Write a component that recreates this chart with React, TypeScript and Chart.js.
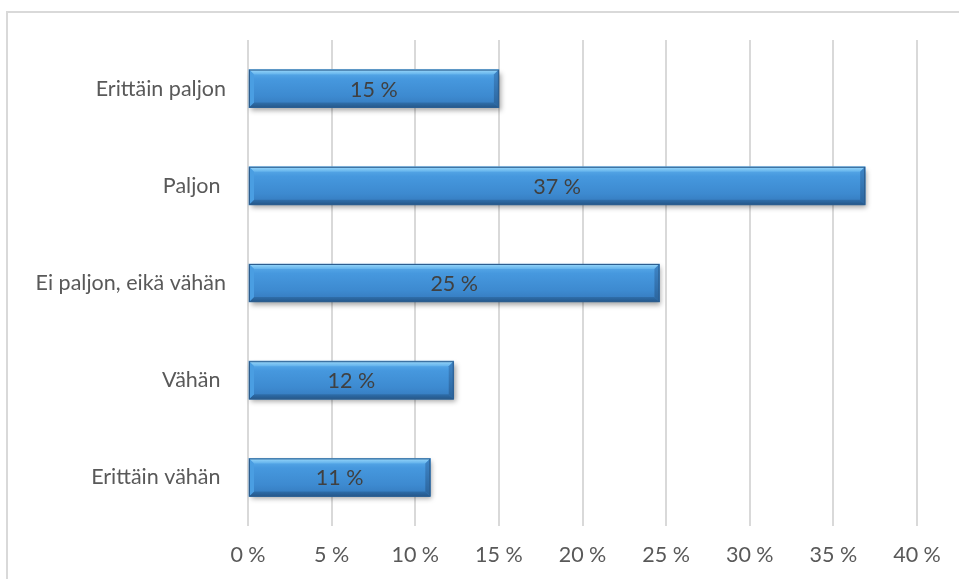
import React, { useEffect, useRef } from "react";
import { Chart, registerables } from "chart.js";

Chart.register(...registerables);

const categories = ["Erittäin paljon", "Paljon ", "Ei paljon, eikä vähän", "Vähän ", "Erittäin vähän "];
const values = [15.0, 36.9, 24.6, 12.3, 10.9];
const valueLabels = ["15 %", "37 %", "25 %", "12 %", "11 %"];
const axisMin = 0;
const axisMax = 40;
const axisStep = 5;

const FONT = "Lato, 'Open Sans', sans-serif";
const TEXT = "#595959";
const FONT_SIZE = 21.5;

const framePlugin = {
  id: "frame",
  beforeDraw(chart: any) {
    const ctx = chart.ctx;
    ctx.save();
    ctx.fillStyle = "#ffffff";
    ctx.fillRect(0, 0, chart.width, chart.height);
    ctx.strokeStyle = "#d9d9d9";
    ctx.lineWidth = 2;
    ctx.strokeRect(7, 12, chart.width + 20, chart.height + 20);
    ctx.restore();
  },
};

const bevelPlugin = {
  id: "bevel",
  afterDatasetsDraw(chart: any) {
    const ctx = chart.ctx;
    const meta = chart.getDatasetMeta(0);
    meta.data.forEach((bar: any, i: number) => {
      const x0 = Math.min(bar.base, bar.x);
      const x1 = Math.max(bar.base, bar.x);
      const h = bar.height;
      const y0 = bar.y - h / 2;
      const y1 = bar.y + h / 2;
      const b = 5;
      ctx.save();
      ctx.shadowColor = "rgba(0,0,0,0.35)";
      ctx.shadowBlur = 5;
      ctx.shadowOffsetX = 2;
      ctx.shadowOffsetY = 3;
      const g = ctx.createLinearGradient(0, y0, 0, y1);
      g.addColorStop(0, "#5fb0ec");
      g.addColorStop(0.25, "#4698de");
      g.addColorStop(0.7, "#3d8ad0");
      g.addColorStop(1, "#3478bb");
      ctx.fillStyle = g;
      ctx.fillRect(x0, y0, x1 - x0, h);
      ctx.shadowColor = "transparent";
      const gt = ctx.createLinearGradient(0, y0, 0, y0 + b);
      gt.addColorStop(0, "#9ad8fa");
      gt.addColorStop(1, "#62b2ec");
      ctx.fillStyle = gt;
      ctx.beginPath();
      ctx.moveTo(x0, y0);
      ctx.lineTo(x1, y0);
      ctx.lineTo(x1 - b, y0 + b);
      ctx.lineTo(x0 + b, y0 + b);
      ctx.closePath();
      ctx.fill();
      const gb = ctx.createLinearGradient(0, y1 - b, 0, y1);
      gb.addColorStop(0, "#2f6eaa");
      gb.addColorStop(1, "#24578a");
      ctx.fillStyle = gb;
      ctx.beginPath();
      ctx.moveTo(x0, y1);
      ctx.lineTo(x1, y1);
      ctx.lineTo(x1 - b, y1 - b);
      ctx.lineTo(x0 + b, y1 - b);
      ctx.closePath();
      ctx.fill();
      ctx.fillStyle = "#4a9ee2";
      ctx.beginPath();
      ctx.moveTo(x0, y0);
      ctx.lineTo(x0 + b, y0 + b);
      ctx.lineTo(x0 + b, y1 - b);
      ctx.lineTo(x0, y1);
      ctx.closePath();
      ctx.fill();
      const gr = ctx.createLinearGradient(0, y0, 0, y1);
      gr.addColorStop(0, "#3f86c8");
      gr.addColorStop(1, "#2b649c");
      ctx.fillStyle = gr;
      ctx.beginPath();
      ctx.moveTo(x1, y0);
      ctx.lineTo(x1 - b, y0 + b);
      ctx.lineTo(x1 - b, y1 - b);
      ctx.lineTo(x1, y1);
      ctx.closePath();
      ctx.fill();
      ctx.strokeStyle = "#2c5d8e";
      ctx.lineWidth = 1;
      ctx.strokeRect(x0 + 0.5, y0 + 0.5, x1 - x0 - 1, h - 1);
      ctx.fillStyle = "#404040";
      ctx.font = `${FONT_SIZE}px ${FONT}`;
      ctx.textAlign = "center";
      ctx.textBaseline = "middle";
      ctx.fillText(valueLabels[i], (x0 + x1) / 2, bar.y + 1);
      ctx.restore();
    });
  },
};

export default function App() {
  const ref = useRef<HTMLCanvasElement | null>(null);
  useEffect(() => {
    document.body.style.margin = "0";
    const canvas = ref.current!;
    const chart = new Chart(canvas, {
      type: "bar",
      data: {
        labels: categories,
        datasets: [
          {
            data: values,
            backgroundColor: "#3d8ad0",
            borderWidth: 0,
            barThickness: 38,
          },
        ],
      },
      options: {
        indexAxis: "y",
        animation: false,
        responsive: false,
        layout: { padding: { top: 40, right: 42, left: 0, bottom: 0 } },
        plugins: { legend: { display: false }, tooltip: { enabled: false } },
        scales: {
          x: {
            min: axisMin,
            max: axisMax,
            ticks: {
              stepSize: axisStep,
              color: TEXT,
              font: { family: FONT, size: FONT_SIZE },
              padding: 16,
              callback: (v: any) => `${v} %`,
            },
            grid: { color: "#d9d9d9", lineWidth: 2, drawTicks: false },
            border: { display: false },
            afterFit: (s: any) => {
              s.height = 53;
            },
          },
          y: {
            ticks: {
              color: TEXT,
              font: { family: FONT, size: FONT_SIZE },
              padding: 22,
            },
            grid: { display: false, drawTicks: false },
            border: { display: false },
            afterFit: (s: any) => {
              s.width = 248;
            },
          },
        },
      },
      plugins: [framePlugin, bevelPlugin],
    });
    return () => chart.destroy();
  }, []);
  return (
    <div style={{ position: "absolute", left: 0, top: 0, width: 959, height: 579 }}>
      <canvas ref={ref} width={959} height={579} />
    </div>
  );
}
